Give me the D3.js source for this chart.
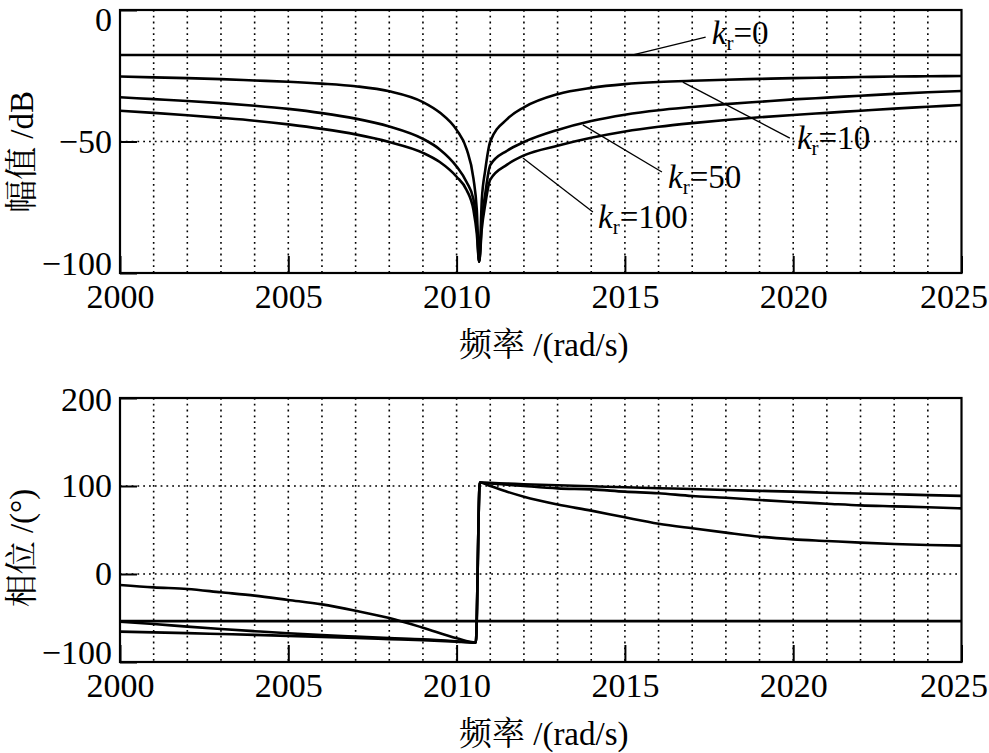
<!DOCTYPE html>
<html>
<head>
<meta charset="utf-8">
<script src="https://cdn.jsdelivr.net/npm/d3@7"></script>
<style>
  html, body { margin: 0; padding: 0; background: #fff; }
  svg { display: block; }
</style>
</head>
<body>
<svg id="chart" width="989" height="753"></svg>
<script>
// ---------------- DATA ----------------
const magFreq = [2000,2001,2002,2003,2004,2005,2006,2007,2008,2009,2009.5,2010,2010.3,2010.5,2010.6,2010.67,2010.75,2010.85,2011,2011.5,2012,2013,2014,2015,2016,2017,2018,2019,2020,2021,2022,2023,2024,2025];
const magKr0   = magFreq.map(() => -17.1);
const magKr10  = [-25.3,-25.6,-25.9,-26.3,-26.8,-27.3,-28.0,-29.0,-30.9,-35.0,-39.0,-45.6,-53.0,-64.0,-76.0,-95.7,-72.0,-61.0,-50.0,-41.5,-37.0,-32.0,-29.6,-28.2,-27.4,-26.9,-26.5,-26.2,-25.9,-25.7,-25.5,-25.3,-25.2,-25.1];
const magKr50  = [-33.2,-33.9,-34.6,-35.4,-36.4,-37.6,-39.2,-41.3,-44.3,-49.0,-53.0,-59.5,-65.5,-72.0,-82.0,-95.7,-80.0,-70.0,-59.0,-53.5,-50.2,-45.6,-42.2,-39.8,-38.1,-36.9,-35.8,-34.9,-34.0,-33.3,-32.6,-31.9,-31.3,-30.8];
const magKr100 = [-38.3,-39.1,-40.0,-41.0,-42.1,-43.5,-45.2,-47.3,-50.2,-54.3,-57.8,-63.4,-68.5,-76.0,-85.0,-95.7,-83.0,-74.0,-64.5,-58.8,-55.3,-51.6,-48.6,-46.2,-44.4,-43.0,-41.8,-40.8,-39.9,-39.1,-38.3,-37.5,-36.8,-36.1];

const phFreq = [2000,2001,2002,2003,2004,2005,2006,2007,2008,2009,2010,2010.57,2010.69,2011,2011.5,2012,2013,2014,2015,2016,2017,2018,2019,2020,2021,2022,2023,2024,2025];
const phKr0  = phFreq.map(() => -53.6);
const phA    = [-12.5,-15.2,-17.0,-20.8,-24.6,-29.5,-34.5,-41.7,-50.0,-61.0,-73.1,-78.0,104.0,100.0,93.5,87.8,79.0,72.0,64.4,57.2,51.9,47.0,42.4,39.4,37.5,35.6,34.1,33.0,32.2];
const phB    = [-54.2,-56.8,-59.8,-62.5,-65.0,-67.4,-69.5,-71.2,-72.8,-74.2,-76.5,-78.0,104.0,103.0,101.5,100.0,97.3,96.2,93.6,91.7,88.6,86.7,84.1,81.8,79.9,78.0,76.9,75.8,74.6];
const phC    = [-65.5,-66.3,-67.2,-68.2,-69.2,-70.3,-71.5,-72.8,-74.0,-75.2,-76.8,-78.0,104.0,103.5,102.8,102.0,100.8,99.7,98.5,97.5,96.6,95.4,94.5,93.6,92.4,91.5,90.6,89.6,88.8];

const xDomain = [2000, 2025];
const xTicks = [2000, 2005, 2010, 2015, 2020, 2025];
const xGrid = d3.range(2001, 2025);
const magTicks = [-100, -50, 0];
const magGrid = [-50];
const phTicks = [-100, 0, 100, 200];
const phGrid = [0, 100];

const magLabels = ["0", "10", "50", "100"];
// annotation anchors in data units: [freq, dB]
const annFrom = [[2015.24,-17.1],[2016.72,-27.4],[2013.75,-43.7],[2011.97,-56.3]];
const annTo   = [[2017.40,-10.3],[2019.90,-48.7],[2016.10,-61.6],[2014.05,-76.8]];
const annText = [[2017.58,-12.9],[2020.11,-52.9],[2016.28,-67.7],[2014.20,-82.9]];

const xTitle = "频率 /(rad/s)";
const magTitle = "幅值 /dB";
const phTitle = "相位 /(°)";

// ---------------- DRAW ----------------
const FONT = "'Liberation Serif', 'Noto Serif CJK SC', serif";
const svg = d3.select("#chart");
const left = 120, right = 961.5;
const x = d3.scaleLinear().domain(xDomain).range([left, right]);

function panel(top, bottom, yDomain, yTicks, yGrid, series, title, titleY, yTitle, yTitleY, topShift) {
  const y = d3.scaleLinear().domain(yDomain).range([bottom, top]);
  const g = svg.append("g");

  // grid
  g.append("g").selectAll("line").data(xGrid).join("line")
    .attr("x1", d => x(d)).attr("x2", d => x(d))
    .attr("y1", top).attr("y2", bottom)
    .attr("stroke", "#000").attr("stroke-width", 1.6)
    .attr("stroke-dasharray", "1.8,4");
  g.append("g").selectAll("line").data(yGrid).join("line")
    .attr("x1", left).attr("x2", right)
    .attr("y1", d => y(d)).attr("y2", d => y(d))
    .attr("stroke", "#000").attr("stroke-width", 1.6)
    .attr("stroke-dasharray", "1.8,4");

  // curves
  series.forEach(s => {
    const line = d3.line().x(d => x(d[0])).y(d => y(d[1])).curve(s.c || d3.curveLinear);
    g.append("path")
      .datum(s.f.map((f, i) => [f, s.v[i]]))
      .attr("d", line)
      .attr("fill", "none").attr("stroke", "#000")
      .attr("stroke-width", 2.6).attr("stroke-linejoin", "round");
  });

  // axes
  const ax = g.append("g").attr("transform", `translate(0,${bottom})`)
    .call(d3.axisBottom(x).tickValues(xTicks).tickSize(-17).tickPadding(11).tickFormat(d3.format("d")));
  const ay = g.append("g").attr("transform", `translate(${left},0)`)
    .call(d3.axisLeft(y).tickValues(yTicks).tickSize(-17).tickPadding(8).tickFormat(d => d < 0 ? "\u2212" + Math.abs(d) : String(d)));
  [ax, ay].forEach(a => {
    a.attr("font-family", null).attr("font-size", null);
    a.select(".domain").remove();
    a.selectAll("line").attr("stroke", "#000").attr("stroke-width", 2);
    a.selectAll("text").style("font-family", FONT).style("font-size", "34px").attr("fill", "#000");
  });
  ay.selectAll(".tick").filter(d => d === yDomain[0]).select("text").attr("y", -9);
  ay.selectAll(".tick").filter(d => d === yDomain[1]).select("text").attr("y", topShift);
  ax.selectAll(".tick").filter(d => d === xDomain[1]).select("text").attr("text-anchor", "end").attr("x", 26);

  // frame
  g.append("rect").attr("x", left).attr("y", top)
    .attr("width", right - left).attr("height", bottom - top)
    .attr("fill", "none").attr("stroke", "#000").attr("stroke-width", 2.2);

  // titles
  g.append("text").attr("x", (left + right) / 2 + 3).attr("y", titleY)
    .attr("text-anchor", "middle").style("font-family", FONT).style("font-size", "33px").text(title);
  g.append("text").attr("transform", `translate(33,${yTitleY}) rotate(-90)`)
    .attr("text-anchor", "middle").style("font-family", FONT).style("font-size", "33px").text(yTitle);
  return y;
}

const smooth = d3.curveMonotoneX;
const yMag = panel(10, 273, [-100, 0], magTicks, magGrid, [
  {f: magFreq, v: magKr0}, {f: magFreq, v: magKr10, c: smooth}, {f: magFreq, v: magKr50, c: smooth}, {f: magFreq, v: magKr100, c: smooth}
], xTitle, 356, magTitle, 152, 10);

panel(398, 662, [-100, 200], phTicks, phGrid, [
  {f: phFreq, v: phKr0}, {f: phFreq, v: phA, c: smooth}, {f: phFreq, v: phB, c: smooth}, {f: phFreq, v: phC, c: smooth}
], xTitle, 745, phTitle, 548, 2);

// annotations
const ann = svg.append("g");
magLabels.forEach((lab, i) => {
  ann.append("line")
    .attr("x1", x(annFrom[i][0])).attr("y1", yMag(annFrom[i][1]))
    .attr("x2", x(annTo[i][0])).attr("y2", yMag(annTo[i][1]))
    .attr("stroke", "#000").attr("stroke-width", 1.3);
  const t = ann.append("text").attr("x", x(annText[i][0])).attr("y", yMag(annText[i][1]))
    .style("font-family", FONT).style("font-size", "33px");
  t.append("tspan").style("font-style", "italic").text("k");
  t.append("tspan").style("font-size", "21px").attr("dy", 6).text("r");
  t.append("tspan").attr("dy", -6).text("=" + lab);
});
</script>
</body>
</html>
